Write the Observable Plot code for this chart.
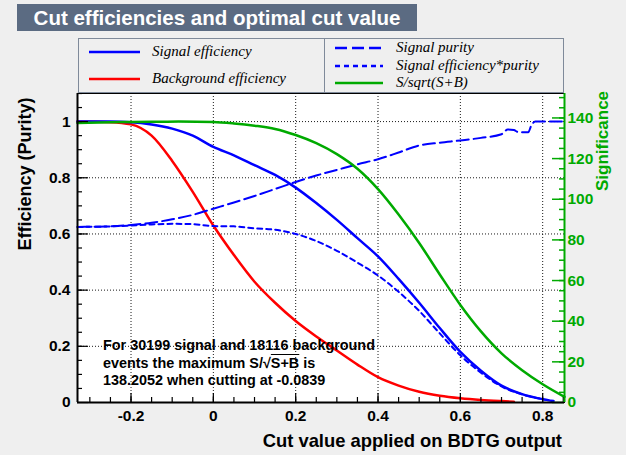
<!DOCTYPE html>
<html><head><meta charset="utf-8">
<script src="https://cdn.jsdelivr.net/npm/d3@7"></script>
<script src="https://cdn.jsdelivr.net/npm/@observablehq/plot@0.6"></script>
<style>
html,body{margin:0;padding:0;background:#efefef;}
#wrap{position:relative;width:626px;height:455px;overflow:hidden;font-family:"Liberation Sans",Arial,sans-serif;background:#efefef;}
#chart{position:absolute;left:0;top:0;}
.abs{position:absolute;white-space:nowrap;}
#title{left:17px;top:4px;width:400px;height:27px;background:#5b6b82;color:#fff;font-weight:bold;font-size:20.5px;line-height:27px;text-align:center;}
.lbox{position:absolute;border:1px solid #7f8a9a;background:#efefef;box-sizing:border-box;}
.ltxt{position:absolute;font-family:"Liberation Serif","Times New Roman",serif;font-style:italic;font-size:15px;line-height:16px;white-space:nowrap;color:#000;}
.lline{position:absolute;}
#ytitle{left:25px;top:174px;transform:translate(-50%,-50%) rotate(-90deg);font-weight:bold;font-size:18px;}
#rtitle{left:603px;top:141px;transform:translate(-50%,-50%) rotate(-90deg);font-weight:bold;font-size:17px;color:#00aa00;}
#xtitle{right:64px;top:430px;font-weight:bold;font-size:18.4px;}
#note{left:103px;top:337px;font-weight:bold;font-size:14.4px;line-height:17.5px;}
.ov{text-decoration:overline;}
</style></head>
<body>
<div id="wrap">
  <div id="chart"></div>
</div>
<script>
// ---------- data ----------
const sigEffX = [-0.33,-0.25,-0.2,-0.15,-0.1,-0.05,0,0.05,0.1,0.15,0.2,0.25,0.3,0.35,0.4,0.45,0.5,0.55,0.6,0.65,0.7,0.75,0.8,0.826];
const sigEff  = [1,1,0.998,0.99,0.975,0.95,0.91,0.88,0.845,0.81,0.765,0.71,0.65,0.585,0.52,0.44,0.355,0.265,0.18,0.113,0.06,0.03,0.012,0.005];

const bkgEffX = [-0.33,-0.25,-0.2,-0.15,-0.1,-0.05,0,0.05,0.1,0.15,0.2,0.25,0.3,0.35,0.4,0.45,0.5,0.55,0.6,0.65,0.7,0.73];
const bkgEff  = [1,0.998,0.99,0.95,0.86,0.75,0.63,0.525,0.43,0.355,0.29,0.235,0.185,0.135,0.09,0.06,0.038,0.024,0.015,0.009,0.005,0.003];

const purityX = [-0.33,-0.25,-0.2,-0.15,-0.1,-0.05,0,0.05,0.1,0.15,0.2,0.25,0.3,0.35,0.4,0.45,0.5,0.55,0.6,0.65,0.7,0.715,0.73,0.74,0.765,0.772,0.782,0.853];
const purity  = [0.625,0.627,0.632,0.64,0.652,0.668,0.69,0.712,0.735,0.76,0.785,0.808,0.828,0.848,0.866,0.89,0.915,0.925,0.933,0.942,0.955,0.972,0.97,0.963,0.962,0.985,1.0,1.0];

const effPurX = [-0.33,-0.25,-0.2,-0.15,-0.1,-0.05,0,0.05,0.1,0.15,0.2,0.25,0.3,0.35,0.4,0.45,0.5,0.55,0.6,0.65,0.7,0.75,0.8,0.826];
const effPur  = [0.625,0.627,0.63,0.634,0.636,0.635,0.628,0.627,0.62,0.615,0.6,0.575,0.54,0.498,0.452,0.394,0.326,0.246,0.168,0.106,0.057,0.029,0.012,0.005];

const signifX = [-0.33,-0.25,-0.2,-0.15,-0.084,0,0.05,0.1,0.15,0.2,0.25,0.3,0.35,0.4,0.45,0.5,0.55,0.6,0.65,0.7,0.75,0.8,0.853];
const signif  = [137.5,137.9,138.0,138.1,138.2,138.0,137.3,136.2,134.6,131.6,127.6,122.2,115.0,105.0,92.5,78.5,63.0,48.0,35.0,24.2,15.9,9.0,2.8];
const maxSignif = 138.2052;

const xMajor = [-0.2,0,0.2,0.4,0.6,0.8];
const yMajor = [0,0.2,0.4,0.6,0.8,1];
const rMajor = [0,20,40,60,80,100,120,140];
const xDomain = [-0.33,0.853];
const yDomain = [0,1.1];

const titleText = "Cut efficiencies and optimal cut value";
const legendLeft = [["Signal efficiency","#0000ff",""],["Background efficiency","#ff0000",""]];
const legendRight = [["Signal purity","#0000ff","12,5"],["Signal efficiency*purity","#0000ff","5,4"],["S/sqrt(S+B)","#00aa00",""]];

// ---------- build ----------
const W = 626, H = 455, mL = 77, mR = 62, mT = 93, mB = 53;
const innerW = W - mL - mR, innerH = H - mT - mB;
const pxX = (xDomain[1]-xDomain[0]) / innerW;   // data units per pixel (x)
const pxY = (yDomain[1]-yDomain[0]) / innerH;   // data units per pixel (y)
const green = "#00aa00";
const mk = (xs, ys) => xs.map((x,i)=>({x, y: ys[i]}));
const minor = (a,b,s)=>{const r=[];for(let v=a;v<=b+1e-9;v+=s) r.push(+v.toFixed(4));return r;};
const xMinor = minor(-0.3,0.85,0.05);
const yMinor = minor(0.05,1.1,0.05);
const rMinor = minor(5,150,5).map(v=>v/maxSignif);
const rMajorY = rMajor.map(v=>v/maxSignif);
const fmt = d => String(+(+d).toFixed(2));
const L = xDomain[0], R = xDomain[1], B = yDomain[0];

const chart = Plot.plot({
  width: W, height: H,
  marginLeft: mL, marginRight: mR, marginTop: mT, marginBottom: mB,
  x: {domain: xDomain},
  y: {domain: yDomain},
  style: {background: "transparent", fontFamily: "'Liberation Sans', Arial, sans-serif", fontSize: "15.5px", fontWeight: "bold", color: "black", overflow: "visible"},
  marks: [
    Plot.frame({fill: "white", stroke: null}),
    Plot.gridX(xMajor, {stroke: "black", strokeOpacity: 0.9, strokeDasharray: "1,2"}),
    Plot.gridY(yMajor.filter(d=>d>0), {stroke: "black", strokeOpacity: 0.9, strokeDasharray: "1,2"}),
    Plot.line(mk(bkgEffX,bkgEff), {x:"x", y:"y", stroke:"#ff0000", strokeWidth:2.5, curve:"monotone-x"}),
    Plot.line(mk(sigEffX,sigEff), {x:"x", y:"y", stroke:"#0000ff", strokeWidth:2.5, curve:"monotone-x"}),
    Plot.line(mk(purityX,purity), {x:"x", y:"y", stroke:"#0000ff", strokeWidth:2, strokeDasharray:"12,5", curve:"monotone-x"}),
    Plot.line(mk(effPurX,effPur), {x:"x", y:"y", stroke:"#0000ff", strokeWidth:2, strokeDasharray:"5,4", curve:"monotone-x"}),
    Plot.line(mk(signifX,signif), {x:"x", y:d=>d.y/maxSignif, stroke:green, strokeWidth:2.5, curve:"monotone-x"}),
    Plot.frame({stroke: "black"}),
    // left axis ticks (inward)
    Plot.ruleY(yMinor, {y: d=>d, x1: L, x2: L + 5*pxX, stroke:"black", strokeWidth:1.2}),
    Plot.ruleY(yMajor, {y: d=>d, x1: L, x2: L + 11*pxX, stroke:"black", strokeWidth:1.2}),
    Plot.axisY(yMajor, {anchor:"left", tickSize:0, tickPadding:7, tickFormat:fmt, label:null}),
    // bottom axis ticks (inward)
    Plot.ruleX(xMinor, {x: d=>d, y1: B, y2: B + 5*pxY, stroke:"black", strokeWidth:1.2}),
    Plot.ruleX(xMajor, {x: d=>d, y1: B, y2: B + 9*pxY, stroke:"black", strokeWidth:1.2}),
    Plot.axisX(xMajor, {anchor:"bottom", tickSize:0, tickPadding:7, tickFormat:fmt, label:null}),
    // right axis (significance)
    Plot.ruleY(rMinor, {y: d=>d, x1: R - 5*pxX, x2: R, stroke:green, strokeWidth:1.5}),
    Plot.ruleY(rMajorY, {y: d=>d, x1: R - 12*pxX, x2: R, stroke:green, strokeWidth:1.5}),
    Plot.axisY(rMajorY, {anchor:"right", tickSize:0, tickPadding:3, tickFormat:d=>String(Math.round(d*maxSignif)), fill:green, label:null}),
    Plot.ruleX([L], {stroke:"black", strokeWidth:2}),
    Plot.ruleY([B], {stroke:"black", strokeWidth:2}),
    Plot.ruleX([R], {stroke:green, strokeWidth:2})
  ]
});
document.getElementById("chart").appendChild(chart);

const wrap = document.getElementById("wrap");
function add(html, cls, id, style){const d=document.createElement("div");d.className=cls;if(id)d.id=id;d.innerHTML=html;if(style)d.setAttribute("style",style);wrap.appendChild(d);return d;}
add(titleText, "abs", "title");
add("", "lbox", null, "left:78px;top:38px;width:247px;height:55px;");
add("", "lbox", null, "left:324px;top:38px;width:240px;height:55px;");
function lline(x1,x2,y,color,dash){
  const svg = `<svg width="${x2-x1}" height="6" style="display:block"><line x1="0" x2="${x2-x1}" y1="3" y2="3" stroke="${color}" stroke-width="2.5" ${dash?`stroke-dasharray="${dash}"`:""}/></svg>`;
  add(svg, "lline", null, `left:${x1}px;top:${y-3}px;`);
}
[52,79].forEach((y,i)=>{ lline(89,140,y,legendLeft[i][1],legendLeft[i][2]); add(legendLeft[i][0],"ltxt",null,`left:152px;top:${y-9}px;`); });
[48,66,83].forEach((y,i)=>{ lline(335,383,y,legendRight[i][1],legendRight[i][2]); add(legendRight[i][0],"ltxt",null,`left:396px;top:${y-9}px;`); });
add("Efficiency (Purity)", "abs", "ytitle");
add("Significance", "abs", "rtitle");
add("Cut value applied on BDTG output", "abs", "xtitle");
add('For 30199 signal and 18116 background<br>events the maximum S/√<span class="ov">S+B</span> is<br>138.2052 when cutting at -0.0839', "abs", "note");
</script>
</body></html>
